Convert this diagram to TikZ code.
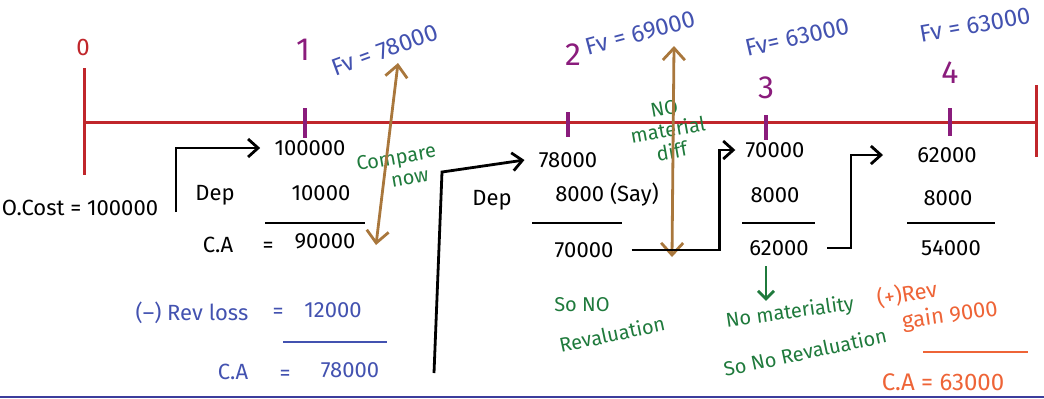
\documentclass[tikz,border=0pt]{standalone}
\usepackage{fontspec}
\setmainfont{Fira Sans}
\usepackage{tikz}
\usetikzlibrary{arrows.meta,calc,positioning}
\definecolor{lineRed}{HTML}{C0262B}
\definecolor{tickPurple}{HTML}{8A1C7C}
\definecolor{fvBlue}{HTML}{4352B0}
\definecolor{arrBrown}{HTML}{A9773C}
\definecolor{noteGreen}{HTML}{1F7A3C}
\definecolor{gainOrange}{HTML}{EE6437}
\definecolor{edgeBlue}{HTML}{3C3C9C}

\begin{document}
\begin{tikzpicture}[x=0.5pt,y=-0.5pt,
    hand/.style={font=\fontsize{11}{13}\selectfont,inner sep=1pt},
    year/.style={font=\fontsize{16}{18}\selectfont,text=tickPurple,inner sep=1pt},
    fv/.style={font=\fontsize{12}{14}\selectfont,text=fvBlue,inner sep=1pt},
    note/.style={font=\fontsize{10}{11}\selectfont,text=noteGreen,inner sep=1pt,align=center},
    gain/.style={font=\fontsize{11}{13}\selectfont,text=gainOrange,inner sep=1pt},
    rule/.style={line width=1.4pt},
    link/.style={line width=1.4pt,-{Straight Barb[length=5pt,width=9pt]}},
    tick/.style={line width=1.6pt,draw=tickPurple},
    compare/.style={line width=1.4pt,draw=arrBrown,
      {Straight Barb[length=6pt,width=11pt]}-{Straight Barb[length=6pt,width=11pt]}}]
  \useasboundingbox (0,0) rectangle (1044,398);
  % Define points
  \coordinate (t0) at (84,122);
  \coordinate (t4) at (1036,122);
  % Time line
  \draw[line width=1.5pt,lineRed] (t0) -- (t4);
  \draw[line width=1.5pt,lineRed] (84,68) -- (84,175);
  \draw[line width=1.5pt,lineRed] (1036,85) -- (1036,157);
  \draw[line width=1.2pt,edgeBlue] (0,397) -- (1044,397);
  % Mark years
  \foreach \x/\a/\b in {305/108/138,568/112/137,766/115/140,950/108/136}
    \draw[tick] (\x,\a) -- (\x,\b);
  \node[year,text=lineRed,font=\fontsize{12}{14}\selectfont] (y0) at (83,47) {0};
  \node[year] (y1) at (303,50) {1};
  \node[year] (y2) at (573,55) {2};
  \node[year] (y3) at (766,88) {3};
  \node[year] (y4) at (950,73) {4};
  % Fair values
  \node[fv,rotate=20] (fv1) at (385,50) {Fv = 78000};
  \node[fv,rotate=15] (fv2) at (640,33) {Fv = 69000};
  \node[fv,rotate=13] (fv3) at (797,37) {Fv= 63000};
  \node[fv,rotate=10] (fv4) at (975,25) {Fv = 63000};

  % Year 1
  \node[hand] (cost) at (80,208) {O.Cost = 100000};
  \node[hand] (v1a) at (310,148) {100000};
  \node[hand] (d1) at (215,195) {Dep};
  \node[hand] (v1b) at (321,193) {10000};
  \node[hand] (ca1) at (218,245) {C.A};
  \node[hand] (eq1) at (268,247) {=};
  \node[hand] (v1c) at (325,241) {90000};
  \draw[rule] (265,223) -- (365,223);
  \coordinate (k1) at (176,212);
  \draw[link] (k1) |- ([xshift=-6pt]v1a.west);
  % Revaluation loss
  \node[hand,text=fvBlue] (loss) at (192,313) {(--) Rev loss};
  \node[hand,text=fvBlue] (eq2) at (278,313) {=};
  \node[hand,text=fvBlue] (v1d) at (333,310) {12000};
  \draw[rule,fvBlue] (283,342) -- (387,342);
  \node[hand,text=fvBlue] (ca2) at (233,372) {C.A};
  \node[hand,text=fvBlue] (eq3) at (285,375) {=};
  \node[hand,text=fvBlue] (v1e) at (350,370) {78000};
  \node[note,rotate=10] (cmp) at (398,168) {Compare\\\quad now};
  \coordinate (c1t) at (398,63);
  \coordinate (c1b) at (376,245);
  \draw[compare] (c1b) -- (c1t);

  % Year 2
  \coordinate (k2a) at (434,373);
  \coordinate (k2b) at (442,172);
  \node[hand] (v2a) at (568,160) {78000};
  \draw[link] (k2a) -- (k2b) -- ([xshift=-6pt]v2a.west);
  \node[hand] (d2) at (492,200) {Dep};
  \node[hand] (v2b) at (607,195) {8000 (Say)};
  \draw[rule] (532,223) -- (622,223);
  \node[hand] (v2c) at (584,250) {70000};
  \node[note,rotate=10] (nodiff) at (668,130) {NO\\material\\diff};
  \coordinate (c2t) at (674,46);
  \coordinate (c2b) at (672,257);
  \draw[compare] (c2b) -- (c2t);
  \node[note] (sono) at (582,305) {So NO};
  \node[note,rotate=12] (reval2) at (612,334) {Revaluation};

  % Year 3
  \node[hand] (v3a) at (775,150) {70000};
  \draw[link] ([xshift=8pt]v2c.east) -| ([xshift=-12pt]v3a.west) -- ([xshift=-4pt]v3a.west);
  \node[hand] (v3b) at (775,195) {8000};
  \draw[rule] (742,223) -- (815,223);
  \node[hand] (v3c) at (779,248) {62000};
  \node[note,rotate=8] (nomat) at (790,313) {No materiality};
  \node[note,rotate=12] (reval3) at (805,352) {So No Revaluation};
  \draw[line width=1.4pt,noteGreen,-{Straight Barb[length=4pt,width=8pt]}]
    ([yshift=-4pt]v3c.south -| y3) -- (nomat.north -| y3);

  % Year 4
  \node[hand] (v4a) at (947,155) {62000};
  \draw[link] ([xshift=8pt]v3c.east) -| ([xshift=-32pt]v4a.west) -- ([xshift=-16pt]v4a.west);
  \node[hand] (v4b) at (948,198) {8000};
  \draw[rule] (907,223) -- (995,223);
  \node[hand] (v4c) at (951,248) {54000};
  % Revaluation gain
  \node[gain,rotate=10] (plus) at (907,294) {(+)Rev};
  \node[gain,rotate=8] (gain) at (950,316) {gain 9000};
  \draw[rule,gainOrange] (923,352) -- (1028,352);
  \node[gain,font=\fontsize{12}{14}\selectfont] (ca4) at (943,382) {C.A = 63000};
\end{tikzpicture}
\end{document}
